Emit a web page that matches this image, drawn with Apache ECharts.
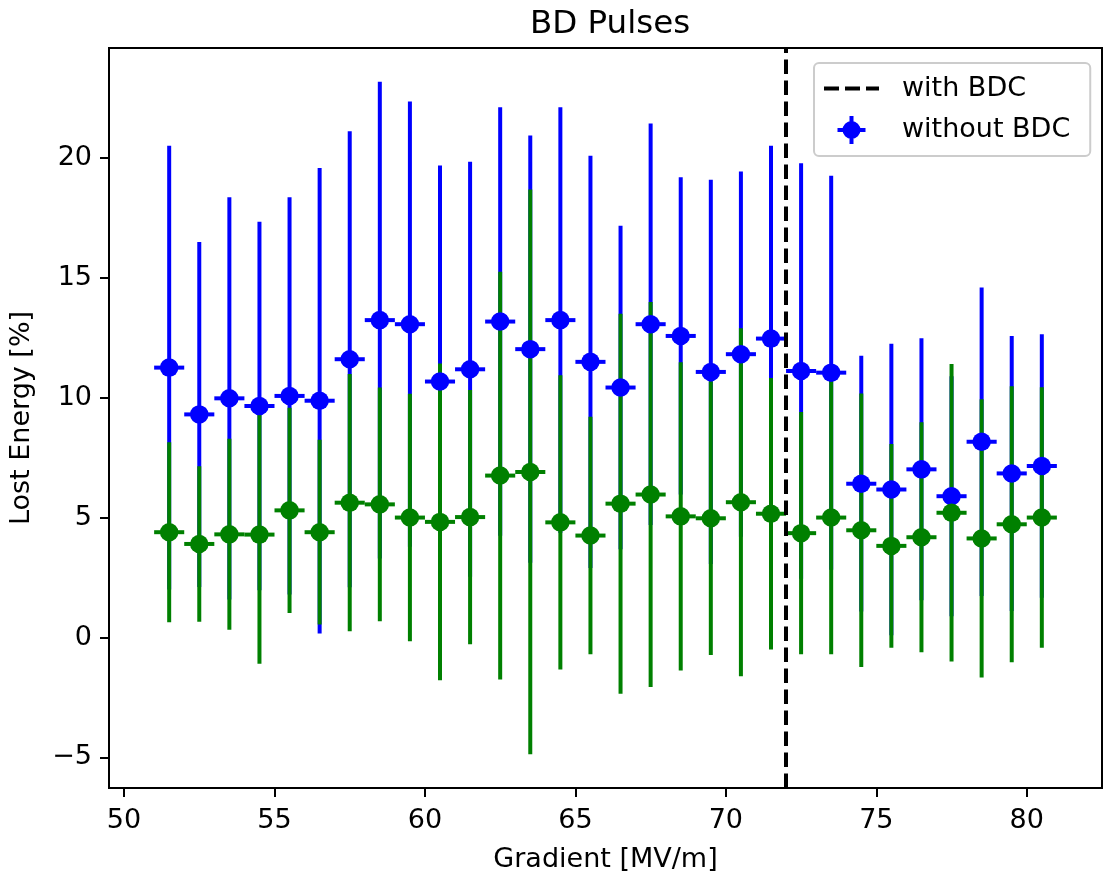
<!DOCTYPE html>
<html>
<head>
<meta charset="utf-8">
<script src="https://cdn.jsdelivr.net/npm/echarts@6/dist/echarts.min.js"></script>
<style>
html,body{margin:0;padding:0;background:#fff;}
#chart{width:1107px;height:881px;}
</style>
</head>
<body>
<div id="chart"></div>
<script>
// ---- data ----
const gradient = [51.5, 52.5, 53.5, 54.5, 55.5, 56.5, 57.5, 58.5, 59.5, 60.5,
                  61.5, 62.5, 63.5, 64.5, 65.5, 66.5, 67.5, 68.5, 69.5, 70.5,
                  71.5, 72.5, 73.5, 74.5, 75.5, 76.5, 77.5, 78.5, 79.5, 80.5];
const gradientHalfWidth = 0.5;
const withoutBdcEnergy = [11.25, 9.30, 9.97, 9.65, 10.07, 9.87, 11.60, 13.23, 13.06, 10.67,
                          11.18, 13.17, 12.02, 13.23, 11.49, 10.42, 13.06, 12.57, 11.07, 11.81,
                          12.46, 11.11, 11.04, 6.41, 6.17, 7.01, 5.89, 8.16, 6.84, 7.15];
const withoutBdcError = [9.25, 7.19, 8.38, 7.68, 8.28, 9.70, 9.50, 9.94, 9.28, 9.00,
                         8.65, 8.93, 8.90, 8.87, 8.59, 6.74, 8.37, 6.61, 8.01, 7.61,
                         8.04, 8.66, 8.21, 5.33, 6.08, 5.46, 5.00, 6.43, 5.73, 5.49];
const withBdcEnergy = [4.39, 3.90, 4.30, 4.29, 5.30, 4.39, 5.62, 5.55, 5.00, 4.82,
                       5.02, 6.75, 6.90, 4.80, 4.25, 5.58, 5.96, 5.05, 4.97, 5.64,
                       5.16, 4.35, 5.00, 4.47, 3.82, 4.18, 5.20, 4.13, 4.72, 5.00];
const withBdcError = [3.75, 3.24, 3.98, 5.38, 4.28, 3.85, 5.36, 4.87, 5.16, 6.60,
                      5.30, 8.50, 11.77, 6.13, 4.95, 7.92, 8.02, 6.42, 5.70, 7.25,
                      5.66, 5.05, 5.70, 5.70, 4.25, 4.79, 6.20, 5.80, 5.75, 5.43];
const bdcGradient = 72;
const xTicks = [50, 55, 60, 65, 70, 75, 80];
const yTicks = [-5, 0, 5, 10, 15, 20];
const titleText = 'BD Pulses';
const xName = 'Gradient [MV/m]';
const yName = 'Lost Energy [%]';

// ---- axis limits like matplotlib autoscale (5% margin) ----
const xLo = Math.min(...gradient) - gradientHalfWidth, xHi = Math.max(...gradient) + gradientHalfWidth;
const allLo = [], allHi = [];
gradient.forEach((g, i) => {
  allLo.push(withoutBdcEnergy[i] - withoutBdcError[i], withBdcEnergy[i] - withBdcError[i]);
  allHi.push(withoutBdcEnergy[i] + withoutBdcError[i], withBdcEnergy[i] + withBdcError[i]);
});
const yLo = Math.min(...allLo), yHi = Math.max(...allHi);
const xMin = xLo - 0.05 * (xHi - xLo), xMax = xHi + 0.05 * (xHi - xLo);
const yMin = yLo - 0.05 * (yHi - yLo), yMax = yHi + 0.05 * (yHi - yLo);

const FONT = 'DejaVu Sans';
const FS = 27;
const BLUE = '#0000ff', GREEN = '#008000';
const LW = 4;

function errorBars(name, color, energy, err, z) {
  return {
    name: name, type: 'custom', z: z, silent: true,
    itemStyle: {color: color},
    data: gradient.map((g, i) => [g, energy[i], err[i]]),
    encode: {x: 0, y: 1},
    renderItem: function (params, api) {
      const x = api.value(0), y = api.value(1), e = api.value(2);
      const top = api.coord([x, y + e]), bot = api.coord([x, y - e]);
      const l = api.coord([x - gradientHalfWidth, y]), r = api.coord([x + gradientHalfWidth, y]);
      const style = {stroke: color, lineWidth: LW, lineCap: 'butt', fill: null};
      return {type: 'group', children: [
        {type: 'line', shape: {x1: top[0], y1: top[1], x2: bot[0], y2: bot[1]}, style: style},
        {type: 'line', shape: {x1: l[0], y1: l[1], x2: r[0], y2: r[1]}, style: style}
      ]};
    }
  };
}
function markers(name, color, energy, z) {
  return {
    name: name, type: 'scatter', z: z, silent: true,
    symbol: 'circle', symbolSize: 18.5,
    itemStyle: {color: color, opacity: 1},
    data: gradient.map((g, i) => [g, energy[i]])
  };
}

const dash = [14.5, 6.5];
const errIcon = 'path://M5,14a9,9 0 1,1 18,0a9,9 0 1,1 -18,0z M0,12h28v4h-28z M12,0h4v28h-4z';
const dashIcon = 'path://M0,0h15v4h-15z M21,0h15v4h-15z M42,0h13v4h-13z';

const chart = echarts.init(document.getElementById('chart'), null, {renderer: 'canvas'});
chart.setOption({
  animation: false,
  backgroundColor: '#fff',
  title: {
    text: titleText, left: 605, top: 3, textAlign: 'center',
    textStyle: {fontFamily: FONT, fontSize: 32.5, fontWeight: 'normal', color: '#000'}
  },
  grid: {left: 109, right: 5, top: 48, bottom: 93, show: true, borderColor: '#000', borderWidth: 2, backgroundColor: 'transparent'},
  legend: {
    orient: 'vertical', left: 814, top: 63,
    padding: [12, 20, 12, 10], itemGap: 14,
    itemWidth: 55, itemHeight: 28,
    backgroundColor: 'rgba(255,255,255,0.8)', borderColor: '#cccccc', borderWidth: 2, borderRadius: 5,
    selectedMode: false,
    textStyle: {fontFamily: FONT, fontSize: FS, color: '#000', padding: [0, 0, 0, 18]},
    data: [
      {name: 'with BDC', icon: dashIcon},
      {name: 'without BDC', icon: errIcon}
    ]
  },
  xAxis: {
    type: 'value', min: xMin, max: xMax,
    name: xName, nameLocation: 'middle', nameGap: 58,
    nameTextStyle: {fontFamily: FONT, fontSize: FS, color: '#000'},
    axisLine: {show: true, onZero: false, lineStyle: {color: '#000', width: 2}},
    axisTick: {show: true, length: 9, lineStyle: {color: '#000', width: 2}, customValues: xTicks},
    axisLabel: {fontFamily: FONT, fontSize: FS, color: '#000', margin: 19, customValues: xTicks},
    splitLine: {show: false}
  },
  yAxis: {
    type: 'value', min: yMin, max: yMax,
    name: yName, nameLocation: 'middle', nameGap: 74, nameRotate: 90,
    nameTextStyle: {fontFamily: FONT, fontSize: FS, color: '#000'},
    axisLine: {show: true, onZero: false, lineStyle: {color: '#000', width: 2}},
    axisTick: {show: true, length: 9, lineStyle: {color: '#000', width: 2}, customValues: yTicks},
    axisLabel: {fontFamily: FONT, fontSize: FS, color: '#000', margin: 17, customValues: yTicks,
      formatter: v => (v < 0 ? '\u2212' + Math.abs(v) : String(v))},
    splitLine: {show: false}
  },
  series: [
    {
      name: 'with BDC', type: 'line', data: [], symbol: 'none', z: 1,
      itemStyle: {color: '#000'},
      lineStyle: {color: '#000', width: LW, type: dash},
      markLine: {
        silent: true, symbol: ['none', 'none'], label: {show: false},
        lineStyle: {color: '#000', width: LW, type: dash},
        data: [{xAxis: bdcGradient}]
      }
    },
    errorBars('without BDC bars', BLUE, withoutBdcEnergy, withoutBdcError, 2),
    errorBars('with BDC bars', GREEN, withBdcEnergy, withBdcError, 3),
    markers('without BDC', BLUE, withoutBdcEnergy, 4),
    markers('with BDC points', GREEN, withBdcEnergy, 5)
  ]
});
</script>
</body>
</html>
